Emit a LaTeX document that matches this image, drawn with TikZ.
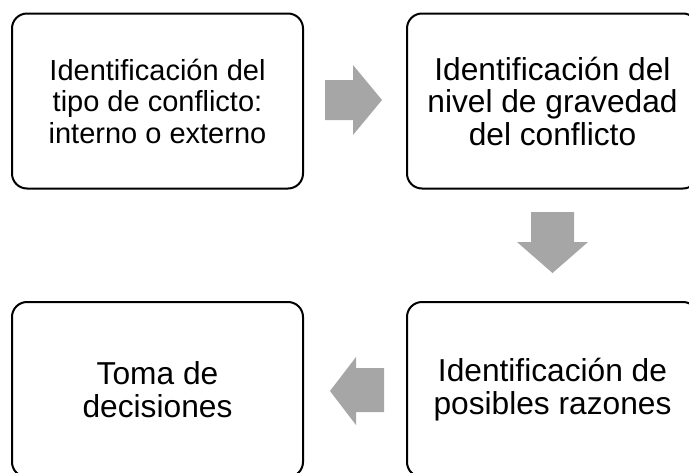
\documentclass[tikz,border=0pt]{standalone}
\usepackage{fontspec}
\setmainfont{Liberation Sans}
\definecolor{arrowgray}{HTML}{A6A6A6}
\begin{document}
\begin{tikzpicture}[x=1pt,y=-1pt,
  stepbox/.style={draw=black, line width=2pt, rounded corners=15pt, fill=white,
    minimum width=291pt, minimum height=175pt, inner sep=0pt, align=center,
    font=\fontsize{31.7}{32.5}\selectfont},
  smalltext/.style={font=\fontsize{29}{31.5}\selectfont},
  blockarrow/.style={fill=arrowgray, draw=none}]
\clip (0,0) rectangle (689,472);
\node[stepbox, smalltext] (tl) at (157.5,101) {Identificación del\\tipo de conflicto:\\interno o externo};
\node[stepbox] (tr) at (552.5,101) {Identificación del\\nivel de gravedad\\del conflicto};
\node[stepbox] (br) at (552.5,389.5) {Identificación de\\posibles razones};
\node[stepbox] (bl) at (157.5,389.5) {Toma de\\decisiones};
% right arrow
\fill[blockarrow] (325,80) -- (353,80) -- (353,65) -- (382,100) -- (353,135) -- (353,120) -- (325,120) -- cycle;
% down arrow
\fill[blockarrow] (531,212) -- (574,212) -- (574,242) -- (588,242) -- (552.5,273) -- (517,242) -- (531,242) -- cycle;
% left arrow
\fill[blockarrow] (384,368) -- (356,368) -- (356,357) -- (330,391) -- (356,425) -- (356,412) -- (384,412) -- cycle;
\end{tikzpicture}
\end{document}
